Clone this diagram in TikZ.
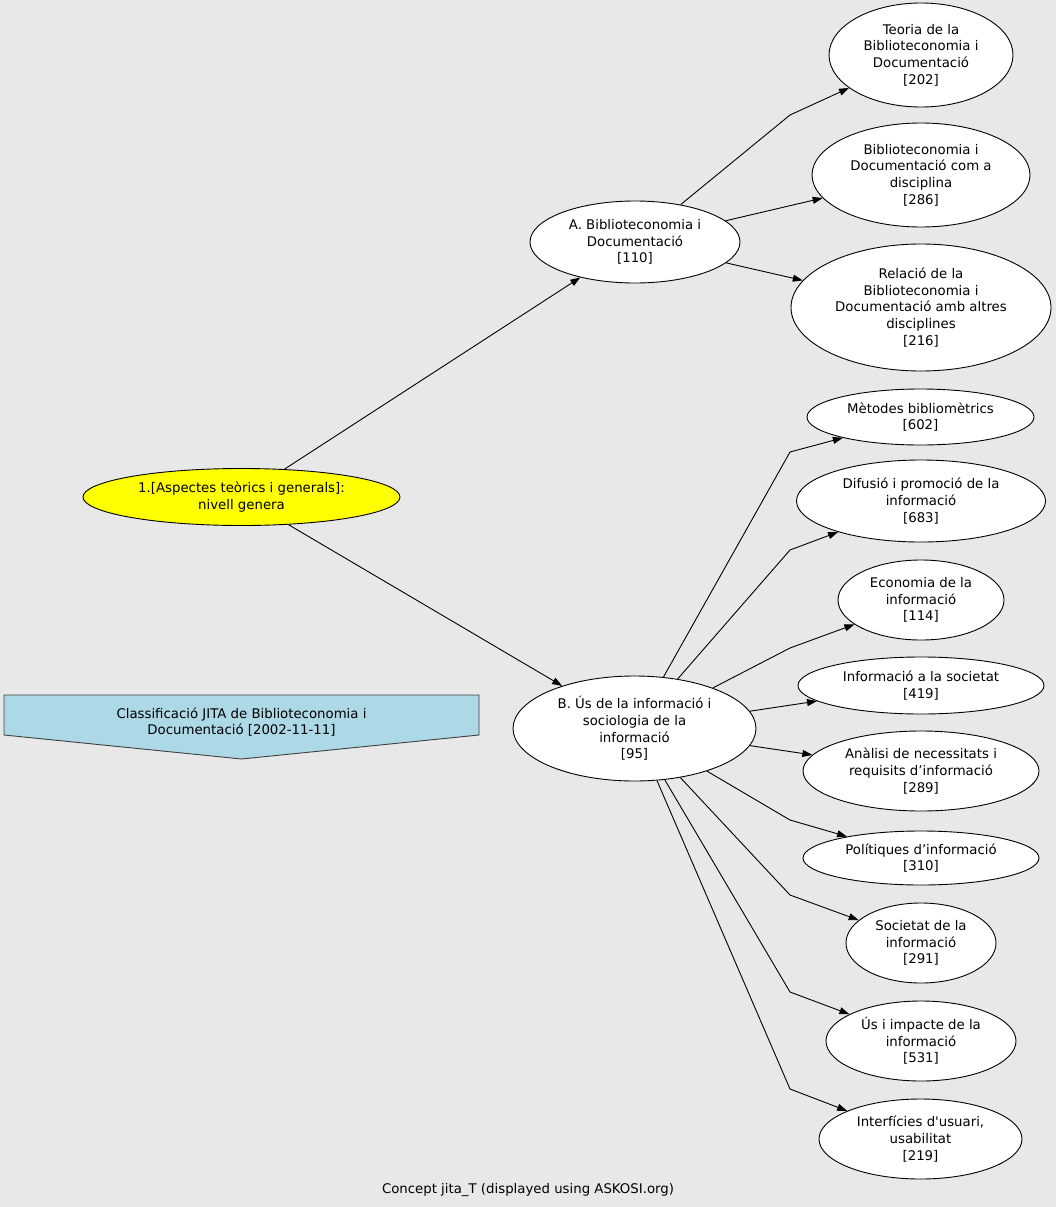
\documentclass[tikz,border=0pt]{standalone}
\usepackage{fontspec}
\setmainfont{DejaVu Sans}
\usetikzlibrary{arrows.meta, shapes.geometric}
\definecolor{canvas}{HTML}{E8E8E8}
\definecolor{legendblue}{HTML}{ADD8E6}
\definecolor{rootyellow}{HTML}{FFFF00}

\tikzset{
    concept/.style={ellipse, draw=black, fill=white, line width=0.9pt, inner sep=0pt, align=center,
        font=\fontsize{13.3}{16.6}\selectfont},
    link/.style={draw=black, line width=0.9pt, -{Triangle[length=10pt,width=7pt]}}
}

\begin{document}
\begin{tikzpicture}[x=1pt, y=-1pt]
        % Background
        \fill[canvas] (0,0) rectangle (1056,1207);
        \useasboundingbox (0,0) rectangle (1056,1207);

        % Draw the concepts
        \node[concept, fill=rootyellow, minimum width=317pt, minimum height=57pt] (jita) at (241.5,497) {1.[Aspectes teòrics i generals]:\\nivell genera};

        \node[concept, minimum width=210pt, minimum height=82pt]  (110) at (635,242) {A. Biblioteconomia i\\Documentació\\{[110]}};
        \node[concept, minimum width=184pt, minimum height=104pt] (202) at (921,55)  {Teoria de la\\Biblioteconomia i\\Documentació\\{[202]}};
        \node[concept, minimum width=218pt, minimum height=104pt] (286) at (921,175) {Biblioteconomia i\\Documentació com a\\disciplina\\{[286]}};
        \node[concept, minimum width=260pt, minimum height=127pt] (216) at (921,307.5) {Relació de la\\Biblioteconomia i\\Documentació amb altres\\disciplines\\{[216]}};

        \node[concept, minimum width=243pt, minimum height=105pt] (95)  at (634.5,728.5) {B. Ús de la informació i\\sociologia de la\\informació\\{[95]}};
        \node[concept, minimum width=227pt, minimum height=56pt]  (602) at (920.5,417) {Mètodes bibliomètrics\\{[602]}};
        \node[concept, minimum width=249pt, minimum height=82pt]  (683) at (921,501)   {Difusió i promoció de la\\informació\\{[683]}};
        \node[concept, minimum width=166pt, minimum height=80pt]  (114) at (921,600)   {Economia de la\\informació\\{[114]}};
        \node[concept, minimum width=246pt, minimum height=57pt]  (419) at (921,685.5) {Informació a la societat\\{[419]}};
        \node[concept, minimum width=236pt, minimum height=80pt]  (289) at (921,771)   {Anàlisi de necessitats i\\requisits d’informació\\{[289]}};
        \node[concept, minimum width=236pt, minimum height=54pt]  (310) at (921,858)   {Polítiques d’informació\\{[310]}};
        \node[concept, minimum width=150pt, minimum height=80pt]  (291) at (921,943)   {Societat de la\\informació\\{[291]}};
        \node[concept, minimum width=190pt, minimum height=80pt]  (531) at (921,1041)  {Ús i impacte de la\\informació\\{[531]}};
        \node[concept, minimum width=203pt, minimum height=80pt]  (219) at (920.5,1139) {Interfícies d\textquotesingle usuari,\\usabilitat\\{[219]}};

        % Legend
        \fill[legendblue, draw=black!75, line width=0.9pt] (4,695) -- (479,695) -- (479,735) -- (241.5,759) -- (4,735) -- cycle;
        \node[align=center, font=\fontsize{13.3}{16.6}\selectfont] (legend) at (241.5,722) {Classificació JITA de Biblioteconomia i\\Documentació [2002-11-11]};

        \node[font=\fontsize{13.3}{15}\selectfont] (caption) at (528,1190) {Concept jita\_T (displayed using ASKOSI.org)};

        % Bend points
        \coordinate (k202) at (790,115);
        \coordinate (k602) at (790,452);
        \coordinate (k683) at (790,550);
        \coordinate (k114) at (790,648);
        \coordinate (k310) at (790,820);
        \coordinate (k291) at (790,895);
        \coordinate (k531) at (790,992);
        \coordinate (k219) at (790,1089);

        % Connect the concepts with arrows
        \draw[link] (jita) -- (110);
        \draw[link] (jita) -- (95);

        \draw[link] (110) -- (k202) -- (202);
        \draw[link] (110) -- (286);
        \draw[link] (110) -- (216);

        \draw[link] (95) -- (k602) -- (602);
        \draw[link] (95) -- (k683) -- (683);
        \draw[link] (95) -- (k114) -- (114);
        \draw[link] (95) -- (419);
        \draw[link] (95) -- (289);
        \draw[link] (95) -- (k310) -- (310);
        \draw[link] (95) -- (k291) -- (291);
        \draw[link] (95) -- (k531) -- (531);
        \draw[link] (95) -- (k219) -- (219);
\end{tikzpicture}
\end{document}
